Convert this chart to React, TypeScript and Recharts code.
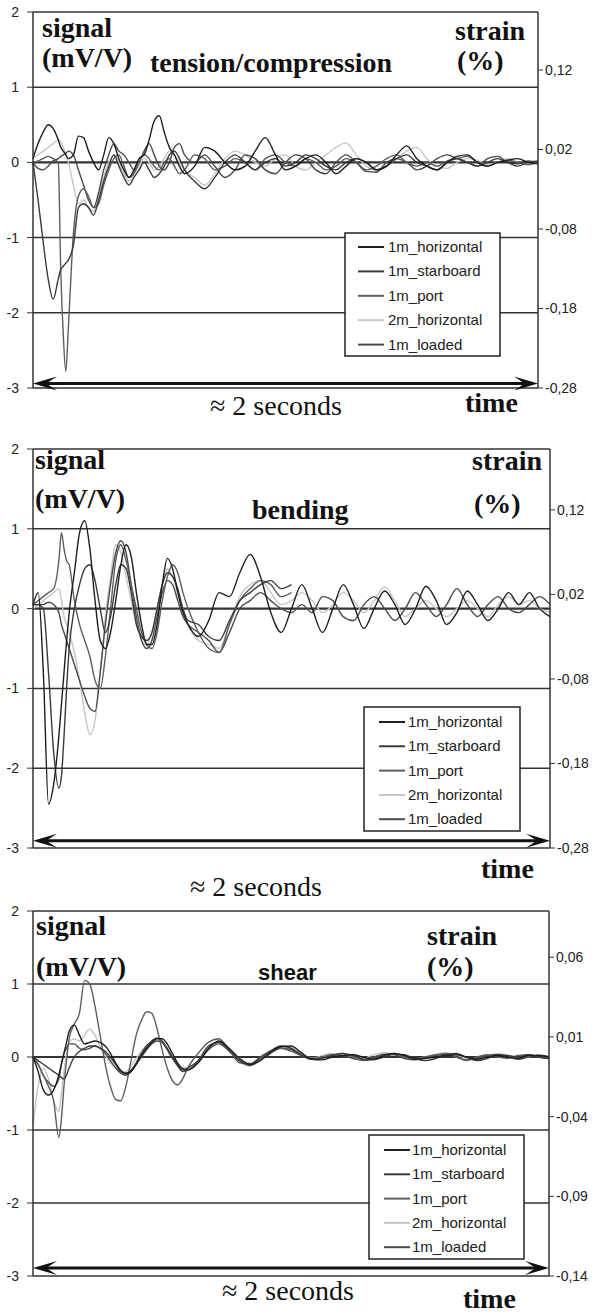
import React from 'react';
import { LineChart, Line, XAxis, YAxis, ReferenceLine } from 'recharts';

// shared time grid (0..100 = full ~2 s window), denser where the signals move fast
const timeGrid = [
  0, 1, 2, 3, 4, 5, 5.5, 6, 6.5, 7,
  8, 9, 10, 11, 12, 13, 14, 15, 16, 17, 18, 19, 20, 21, 22, 23, 24, 25, 26, 27, 28, 29, 30,
  32, 34, 36, 38, 40, 42, 44, 46, 48, 50, 52, 54, 56, 58, 60, 62, 64, 66, 68, 70, 72, 74, 76, 78, 80, 82, 84, 86, 88, 90, 92, 94, 96, 98, 100,
];

const seriesKeys = ['h1', 'sb', 'pt', 'h2', 'ld'];
const seriesNames = ['1m_horizontal', '1m_starboard', '1m_port', '2m_horizontal', '1m_loaded'];
const seriesColors = ['#1e1e1e', '#3a3a3a', '#5e5e5e', '#c6c6c6', '#4a4a4a'];

const signalTicks = [2, 1, 0, -1, -2, -3];

// ---- tension / compression ----
const tensionHorizontal = [
  0.05, 0.25, 0.4, 0.5, 0.45, 0.3, 0.2, 0.15, 0.1, 0.05,
  0.1, 0.35, 0.33, 0.15, 0.0, -0.1, 0.1, 0.33, 0.25, 0.05, -0.1, -0.2, -0.1, 0.05, 0.1, 0.3, 0.55, 0.62, 0.4, 0.2, 0.1, -0.05, -0.15,
  -0.05, 0.2, 0.15, 0.0, -0.1, -0.05, 0.15, 0.33, 0.1, -0.1, -0.05, 0.05, 0.1, 0.0, -0.15, -0.05, 0.05, 0.0, -0.1, -0.05, 0.1, 0.22, 0.05, -0.05, -0.1, 0.0, 0.08, 0.1, 0.0, -0.05, 0.0, 0.03, 0.05, 0.0, -0.02,
];
const tensionStarboard = [
  0.0, -0.5, -1.05, -1.55, -1.82, -1.55, -1.42, -1.38, -1.34, -1.3,
  -1.1, -0.6, -0.55, -0.6, -0.7, -0.5, -0.25, -0.05, 0.1, -0.05, -0.2, -0.3, -0.2, -0.1, 0.0, -0.1, -0.2, -0.15, -0.05, 0.1, 0.15, 0.05, -0.1,
  -0.25, -0.35, -0.2, 0.0, 0.1, 0.0, -0.1, 0.0, 0.05, -0.05, 0.0, 0.1, 0.05, -0.05, -0.1, 0.0, 0.05, 0.0, -0.1, -0.05, 0.05, 0.1, 0.0, -0.05, -0.1, 0.0, 0.05, 0.0, -0.05, 0.0, 0.05, 0.0, -0.02, 0.02, 0.0,
];
const tensionPort = [
  0.0, 0.02, 0.05, 0.08, 0.05, 0.0, -1.45, -2.3, -2.78, -2.2,
  -0.95, -0.45, -0.35, -0.45, -0.6, -0.55, -0.3, -0.1, 0.05, 0.1, -0.05, -0.2, -0.15, 0.0, 0.1, 0.05, -0.05, -0.1, 0.0, 0.05, -0.05, -0.15, -0.1,
  0.1, 0.05, -0.1, -0.05, 0.05, 0.0, -0.1, 0.05, 0.1, 0.0, -0.05, 0.05, 0.0, -0.1, -0.05, 0.05, 0.0, -0.1, -0.05, 0.05, 0.1, 0.0, -0.05, 0.0, -0.05, 0.02, 0.05, 0.08, 0.0, -0.05, 0.0, 0.03, 0.0, -0.03, 0.0,
];
const tension2m = [
  0.05, 0.1, 0.15, 0.2, 0.25, 0.3, 0.28, 0.2, 0.1, 0.0,
  -0.3, -0.55, -0.5, -0.6, -0.65, -0.45, -0.2, 0.0, 0.1, 0.0, -0.15, -0.25, -0.15, -0.05, 0.05, 0.0, -0.1, -0.05, 0.05, 0.15, 0.1, 0.0, -0.1,
  -0.2, -0.3, -0.15, 0.05, 0.15, 0.1, 0.0, -0.05, 0.05, 0.1, -0.05, -0.1, 0.0, 0.1, 0.2, 0.26, 0.1, -0.05, -0.1, -0.05, 0.05, 0.15, 0.2, 0.05, -0.05, -0.08, 0.0, 0.05, 0.03, -0.03, 0.0, 0.05, 0.0, -0.03, 0.0,
];
const tensionLoaded = [
  0.0, -0.08, -0.1, -0.05, 0.02, 0.05, 0.08, 0.1, 0.12, 0.15,
  0.1, -0.1, -0.3, -0.5, -0.6, -0.4, -0.1, 0.1, 0.25, 0.15, 0.1, 0.0, -0.1, 0.0, 0.15, 0.25, 0.1, -0.05, -0.1, 0.0, 0.2, 0.25, 0.1,
  0.0, 0.1, -0.05, -0.2, -0.1, 0.1, 0.05, -0.1, -0.15, 0.0, 0.1, 0.05, -0.1, -0.15, 0.0, 0.1, 0.0, -0.12, -0.13, 0.0, 0.05, 0.0, -0.1, -0.05, 0.05, 0.1, 0.05, 0.0, -0.05, 0.05, 0.08, 0.0, -0.05, 0.0, 0.02,
];
const tensionStrainTicks = [0.12, 0.02, -0.08, -0.18, -0.28];

// ---- bending ----
const bendingHorizontal = [
  0.05, 0.2, -0.8, -2.45, -2.2, -1.6, -1.2, -0.8, -0.4, -0.05,
  0.45, 0.95, 1.1, 0.75, 0.1, -0.4, -0.5, -0.3, 0.1, 0.55, 0.8, 0.65, 0.2, -0.2, -0.45, -0.45, -0.2, 0.3, 0.63, 0.5, 0.2, -0.05, -0.2,
  -0.35, -0.15, 0.2, 0.15, 0.45, 0.68, 0.4, -0.05, -0.3, 0.0, 0.3, 0.0, -0.3, 0.0, 0.3, 0.05, -0.25, 0.0, 0.22, 0.05, -0.2, 0.0, 0.28, 0.1, -0.2, -0.05, 0.22, 0.05, -0.15, 0.0, 0.2, 0.05, 0.2, 0.0, -0.1,
];
const bendingStarboard = [
  0.05, 0.05, 0.0, -0.8, -1.8, -2.25, -2.1, -1.6, -1.0, -0.5,
  0.0, 0.3, 0.5, 0.55, 0.35, 0.0, -0.3, -0.1, 0.3, 0.55, 0.5, 0.2, -0.2, -0.35, -0.4, -0.3, 0.0, 0.3, 0.45, 0.4, 0.25, 0.0, -0.15,
  -0.2, -0.35, -0.4, -0.15, 0.1, 0.2, 0.3, 0.35, 0.25, 0.3,
  null, null, null, null, null, null, null, null, null, null, null, null, null, null, null, null, null, null, null, null, null, null, null, null, null,
];
const bendingPort = [
  0.05, 0.1, 0.15, 0.2, 0.25, 0.6, 0.95, 0.75, 0.6, 0.55,
  0.1, -0.2, -0.4, -0.6, -0.9, -1.0, -0.6, 0.0, 0.6, 0.8, 0.6, 0.3, 0.0, -0.3, -0.45, -0.5, -0.3, 0.1, 0.4, 0.55, 0.45, 0.2, 0.0,
  -0.3, -0.5, -0.55, -0.2, 0.1, 0.25, 0.35, 0.3, 0.15, 0.2,
  null, null, null, null, null, null, null, null, null, null, null, null, null, null, null, null, null, null, null, null, null, null, null, null, null,
];
const bending2m = [
  0.0, 0.05, 0.1, 0.15, 0.2, 0.25, 0.1, -0.1, -0.2, -0.3,
  -0.55, -0.9, -1.3, -1.58, -1.4, -0.8, -0.1, 0.4, 0.8, 0.7, 0.4, 0.1, -0.2, -0.4, -0.45, -0.3, 0.0, 0.3, 0.5, 0.4, 0.2, 0.0, -0.2,
  -0.4, -0.45, -0.5, -0.2, 0.15, 0.3, 0.35, 0.2, 0.05, 0.1, 0.2, 0.1, -0.05, 0.05, 0.2, 0.1, -0.05, 0.1, 0.27, 0.1, -0.1, 0.0, 0.1, 0.0, -0.1, 0.0, 0.1, 0.0, -0.1, 0.05, 0.15, 0.05, 0.1, 0.0, -0.05,
];
const bendingLoaded = [
  0.05, 0.05, 0.05, 0.08, 0.05, -0.05, -0.2, -0.3, -0.4, -0.5,
  -0.7, -0.9, -1.1, -1.25, -1.29, -0.8, -0.2, 0.3, 0.7, 0.85, 0.7, 0.3, -0.1, -0.4, -0.5, -0.4, -0.1, 0.2, 0.35, 0.3, 0.1, -0.1, -0.2,
  -0.3, -0.4, -0.55, -0.3, 0.0, 0.1, 0.2, 0.1, 0.0, -0.05, 0.05, -0.05, 0.15, 0.1, -0.1, -0.15, 0.05, 0.15, 0.0, -0.15, 0.0, 0.2, 0.05, -0.1, 0.05, 0.25, 0.05, -0.1, 0.05, 0.15, 0.0, -0.05, 0.05, 0.15, 0.05,
];
const bendingStrainTicks = [0.12, 0.02, -0.08, -0.18, -0.28];

// ---- shear ----
const shearHorizontal = [
  0.0, -0.2, -0.45, -0.52, -0.45, -0.25, -0.1, 0.05, 0.2, 0.35,
  0.44, 0.3, 0.18, 0.2, 0.22, 0.2, 0.15, 0.05, -0.08, -0.18, -0.23, -0.2, -0.1, 0.02, 0.12, 0.2, 0.25, 0.25, 0.18, 0.05, -0.08, -0.16, -0.18,
  -0.08, 0.12, 0.22, 0.12, -0.02, -0.1, -0.05, 0.06, 0.14, 0.15, 0.06, -0.03, -0.04, 0.0, 0.02, 0.03, 0.0, -0.03, 0.02, 0.05, 0.02, -0.03, -0.02, 0.0, 0.02, 0.03, 0.0, -0.03, 0.0, 0.02, 0.0, -0.02, 0.02, 0.02, 0.0,
];
const shearStarboard = [
  0.0, -0.05, -0.1, -0.15, -0.2, -0.25, -0.28, -0.3, -0.25, -0.15,
  0.0, 0.08, 0.12, 0.15, 0.15, 0.12, 0.08, 0.0, -0.1, -0.2, -0.22, -0.18, -0.08, 0.05, 0.15, 0.22, 0.26, 0.22, 0.12, 0.0, -0.1, -0.18, -0.15,
  -0.05, 0.15, 0.2, 0.1, -0.05, -0.1, -0.02, 0.08, 0.15, 0.12, 0.03, -0.03, -0.02, 0.02, 0.05, 0.02, -0.03, -0.04, 0.0, 0.04, 0.03, -0.02, -0.05, -0.02, 0.03, 0.05, 0.0, -0.05, -0.02, 0.03, 0.02, 0.0, 0.03, 0.0, -0.02,
];
const shearPort = [
  0.0, -0.1, -0.25, -0.4, -0.6, -1.1, -0.85, -0.4, -0.05, 0.25,
  0.45, 0.6, 1.05, 1.0, 0.7, 0.3, -0.1, -0.4, -0.58, -0.6, -0.4, -0.05, 0.3, 0.5, 0.62, 0.6, 0.4, 0.1, -0.15, -0.32, -0.38, -0.3, -0.15,
  0.05, 0.2, 0.25, 0.1, -0.08, -0.1, 0.0, 0.08, 0.12, 0.08, 0.02, -0.02, 0.0, 0.02, 0.05, 0.0, -0.05, -0.02, 0.03, 0.05, 0.0, -0.03, 0.0, 0.03, 0.05, 0.0, -0.05, 0.0, 0.03, 0.0, -0.02, 0.02, 0.03, 0.0, -0.02,
];
const shear2m = [
  -0.95, -0.4, -0.15, -0.3, -0.6, -0.75, -0.5, -0.2, 0.05, 0.2,
  0.25, 0.22, 0.3, 0.38, 0.3, 0.15, 0.02, -0.08, -0.15, -0.2, -0.2, -0.12, -0.02, 0.08, 0.16, 0.2, 0.22, 0.2, 0.12, 0.02, -0.08, -0.14, -0.15,
  -0.05, 0.12, 0.2, 0.1, -0.02, -0.08, -0.02, 0.08, 0.14, 0.12, 0.05, -0.02, 0.02, 0.05, 0.04, 0.0, -0.02, 0.03, 0.06, 0.04, 0.0, -0.03, 0.0, 0.03, 0.06, 0.03, -0.02, -0.03, 0.02, 0.05, 0.02, -0.02, 0.0, 0.03, 0.0,
];
const shearLoaded = [
  0.0, -0.1, -0.25, -0.35, -0.4, -0.3, -0.1, 0.05, 0.12, 0.18,
  0.18, 0.12, 0.1, 0.12, 0.15, 0.12, 0.05, -0.05, -0.15, -0.22, -0.25, -0.2, -0.1, 0.0, 0.1, 0.18, 0.22, 0.2, 0.1, -0.02, -0.12, -0.2, -0.18,
  -0.08, 0.1, 0.18, 0.08, -0.05, -0.12, -0.05, 0.05, 0.12, 0.1, 0.02, -0.03, 0.0, 0.03, 0.02, -0.02, -0.04, 0.0, 0.04, 0.03, -0.02, -0.04, 0.0, 0.02, 0.04, 0.0, -0.04, -0.02, 0.02, 0.03, 0.0, -0.03, 0.0, 0.02, 0.0,
];
const shearStrainTicks = [0.06, 0.01, -0.04, -0.09, -0.14];

const buildRows = (set: (number | null)[][]) =>
  timeGrid.map((t, i) => {
    const row: Record<string, number | null> = { t };
    set.forEach((vals, k) => {
      row[seriesKeys[k]] = vals[i];
    });
    return row;
  });

const SERIF = "'Liberation Serif', 'DejaVu Serif', serif";
const SANS = "'Liberation Sans', Arial, sans-serif";
const frame = '#333';
const drawOrder = [3, 4, 2, 1, 0];

const fmtStrain = (v: number) => v.toFixed(2).replace('.', ',');

const ArrowShape = (p: any) => {
  const x1 = Math.min(p.x1, p.x2);
  const x2 = Math.max(p.x1, p.x2);
  const y = p.y1;
  const len = 24;
  const h = 7;
  return (
    <g>
      <line x1={x1 + 10} x2={x2 - 10} y1={y} y2={y} stroke="#111" strokeWidth={3} />
      <polygon points={`${x1},${y} ${x1 + len},${y - h} ${x1 + len * 0.55},${y} ${x1 + len},${y + h}`} fill="#111" />
      <polygon points={`${x2},${y} ${x2 - len},${y - h} ${x2 - len * 0.55},${y} ${x2 - len},${y + h}`} fill="#111" />
    </g>
  );
};

type TextItem = { text: string; x: number; y: number; bold?: boolean; sans?: boolean; size?: number };

interface PanelProps {
  top: number;
  height: number;
  plotTop: number;
  plotBottom: number;
  right: number;
  rows: Record<string, number | null>[];
  strainTicks: number[];
  strainDomain: [number, number];
  arrowAt: number;
  texts: TextItem[];
  legend: { x: number; y: number; w: number; h: number; lineX: number; textX: number; first: number; step: number };
}

function Panel({ top, height, plotTop, plotBottom, right, rows, strainTicks, strainDomain, arrowAt, texts, legend }: PanelProps) {
  return (
    <div style={{ position: 'absolute', left: 0, top, width: 595, height }}>
      <LineChart
        width={595}
        height={height}
        data={rows}
        margin={{ top: plotTop, right: 0, bottom: height - plotBottom, left: 0 }}
      >
        <XAxis dataKey="t" type="number" domain={[0, 100]} hide />
        <YAxis
          yAxisId="sig"
          type="number"
          domain={[-3, 2]}
          ticks={signalTicks}
          interval={0}
          allowDataOverflow
          width={33}
          tickSize={6}
          tickMargin={8}
          axisLine={{ stroke: frame, strokeWidth: 1.5 }}
          tickLine={{ stroke: frame }}
          tick={{ fill: '#222', fontSize: 14, fontFamily: SANS }}
        />
        <YAxis
          yAxisId="strain"
          orientation="right"
          type="number"
          domain={strainDomain}
          ticks={strainTicks}
          interval={0}
          allowDataOverflow
          width={595 - right}
          tickSize={5}
          tickMargin={2}
          tickFormatter={fmtStrain}
          axisLine={{ stroke: frame, strokeWidth: 1.5 }}
          tickLine={{ stroke: frame }}
          tick={{ fill: '#222', fontSize: 14, fontFamily: SANS, textAnchor: 'start' }}
        />
        {signalTicks.map((v) => (
          <ReferenceLine key={v} yAxisId="sig" y={v} stroke={frame} strokeWidth={v === 0 ? 2.2 : 1.5} />
        ))}
        <ReferenceLine yAxisId="sig" y={arrowAt} shape={ArrowShape} />
        {drawOrder.map((k) => (
          <Line
            key={seriesKeys[k]}
            yAxisId="sig"
            dataKey={seriesKeys[k]}
            name={seriesNames[k]}
            type="monotone"
            stroke={seriesColors[k]}
            strokeWidth={1.4}
            dot={false}
            connectNulls={false}
            isAnimationActive={false}
          />
        ))}
      </LineChart>
      <svg
        width={595}
        height={height}
        style={{ position: 'absolute', left: 0, top: 0, pointerEvents: 'none', overflow: 'visible' }}
      >
        {texts.map((t) => (
          <text
            key={t.text}
            x={t.x}
            y={t.y}
            style={{
              fontFamily: t.sans ? SANS : SERIF,
              fontWeight: t.bold ? 700 : 400,
              fontSize: t.size ?? 28,
            }}
            fill="#111"
          >
            {t.text}
          </text>
        ))}
        <rect x={legend.x} y={legend.y} width={legend.w} height={legend.h} fill="#fff" stroke="#222" strokeWidth={1.5} />
        {seriesNames.map((name, i) => {
          const cy = legend.y + legend.first + i * legend.step;
          return (
            <g key={name}>
              <line x1={legend.x + legend.lineX} x2={legend.x + legend.lineX + 26} y1={cy} y2={cy} stroke={seriesColors[i]} strokeWidth={2} />
              <text x={legend.x + legend.textX} y={cy + 5} style={{ fontFamily: SANS, fontSize: 15 }} fill="#222">
                {name}
              </text>
            </g>
          );
        })}
      </svg>
    </div>
  );
}

export default function App() {
  return (
    <div style={{ position: 'absolute', left: 0, top: 0, width: 595, height: 1316, background: '#fff', overflow: 'hidden' }}>
      <Panel
        top={0}
        height={430}
        plotTop={12}
        plotBottom={388}
        right={538}
        rows={buildRows([tensionHorizontal, tensionStarboard, tensionPort, tension2m, tensionLoaded])}
        strainTicks={tensionStrainTicks}
        strainDomain={[-0.28, 0.193]}
        arrowAt={-2.94}
        texts={[
          { text: 'signal', x: 42, y: 37, bold: true },
          { text: '(mV/V)', x: 42, y: 67, bold: true },
          { text: 'tension/compression', x: 150, y: 72, bold: true },
          { text: 'strain', x: 455, y: 40, bold: true },
          { text: '(%)', x: 457, y: 70, bold: true },
          { text: '\u2248 2  seconds', x: 210, y: 415 },
          { text: 'time', x: 465, y: 412, bold: true },
        ]}
        legend={{ x: 345, y: 233, w: 155, h: 123, lineX: 13, textX: 43, first: 14, step: 24.4 }}
      />
      <Panel
        top={430}
        height={470}
        plotTop={19}
        plotBottom={418}
        right={550}
        rows={buildRows([bendingHorizontal, bendingStarboard, bendingPort, bending2m, bendingLoaded])}
        strainTicks={bendingStrainTicks}
        strainDomain={[-0.28, 0.192]}
        arrowAt={-2.91}
        texts={[
          { text: 'signal', x: 35, y: 39, bold: true },
          { text: '(mV/V)', x: 35, y: 78, bold: true },
          { text: 'bending', x: 252, y: 89, bold: true },
          { text: 'strain', x: 472, y: 40, bold: true },
          { text: '(%)', x: 474, y: 83, bold: true },
          { text: 'time', x: 481, y: 448, bold: true },
          { text: '\u2248 2  seconds', x: 190, y: 466 },
        ]}
        legend={{ x: 364, y: 277, w: 156, h: 124, lineX: 15, textX: 44, first: 15, step: 24.3 }}
      />
      <Panel
        top={900}
        height={416}
        plotTop={11}
        plotBottom={376}
        right={549}
        rows={buildRows([shearHorizontal, shearStarboard, shearPort, shear2m, shearLoaded])}
        strainTicks={shearStrainTicks}
        strainDomain={[-0.14, 0.089]}
        arrowAt={-2.89}
        texts={[
          { text: 'signal', x: 36, y: 35, bold: true },
          { text: '(mV/V)', x: 36, y: 76, bold: true },
          { text: 'shear', x: 258, y: 80, bold: true, sans: true, size: 22 },
          { text: 'strain', x: 427, y: 45, bold: true },
          { text: '(%)', x: 427, y: 76, bold: true },
          { text: '\u2248 2  seconds', x: 222, y: 400 },
          { text: 'time', x: 463, y: 408, bold: true },
        ]}
        legend={{ x: 369, y: 235, w: 155, h: 124, lineX: 15, textX: 43, first: 15, step: 24.3 }}
      />
    </div>
  );
}
